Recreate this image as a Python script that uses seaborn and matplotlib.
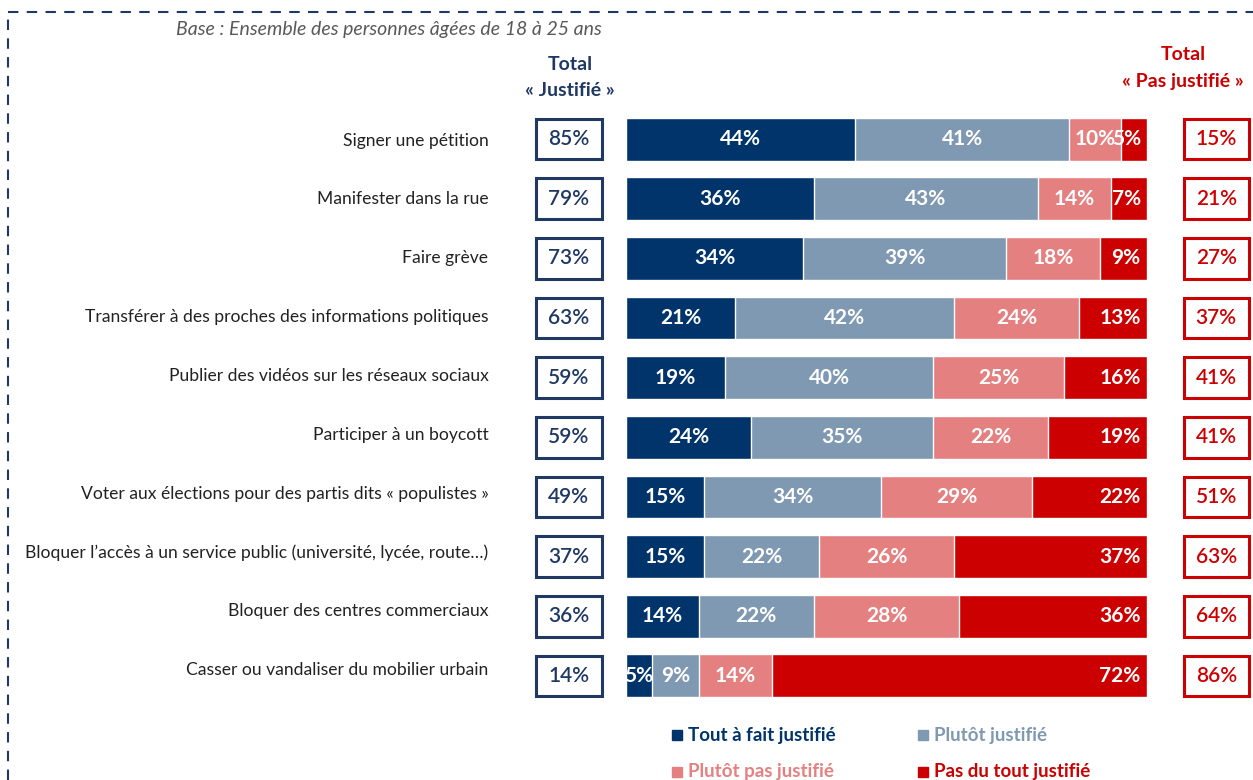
import numpy as np
import pandas as pd
import matplotlib
matplotlib.use("Agg")
import matplotlib.pyplot as plt
import matplotlib.transforms as mtrans
from matplotlib.patches import Rectangle
from matplotlib.lines import Line2D
import seaborn as sns

sns.set_style("white")
plt.rcParams['font.family'] = ['Lato', 'DejaVu Sans']

items = ["Signer une pétition",
         "Manifester dans la rue",
         "Faire grève",
         "Transférer à des proches des informations politiques",
         "Publier des vidéos sur les réseaux sociaux",
         "Participer à un boycott",
         "Voter aux élections pour des partis dits « populistes »",
         "Bloquer l’accès à un service public (université, lycée, route…)",
         "Bloquer des centres commerciaux",
         "Casser ou vandaliser du mobilier urbain"]
tout_a_fait = [44, 36, 34, 21, 19, 24, 15, 15, 14, 5]
plutot = [41, 43, 39, 42, 40, 35, 34, 22, 22, 9]
plutot_pas = [10, 14, 18, 24, 25, 22, 29, 26, 28, 14]
pas_du_tout = [5, 7, 9, 13, 16, 19, 22, 37, 36, 72]
total_justifie = [85, 79, 73, 63, 59, 59, 49, 37, 36, 14]
total_pas = [15, 21, 27, 37, 41, 41, 51, 63, 64, 86]

cats = ["Tout à fait justifié", "Plutôt justifié", "Plutôt pas justifié", "Pas du tout justifié"]
colors = ["#00346A", "#7F99B3", "#E58080", "#CC0000"]
navy = "#1F3864"
red = "#CC0000"

df = pd.DataFrame({"item": items, cats[0]: tout_a_fait, cats[1]: plutot,
                   cats[2]: plutot_pas, cats[3]: pas_du_tout})
vals = df[cats].to_numpy()
cum = vals.cumsum(axis=1)

fig = plt.figure(figsize=(12.53, 7.8), dpi=100)
ax = fig.add_axes([626/1253, 1 - 705.8/780, (1147-626)/1253, (705.8-109.2)/780])

# stacked bars: draw cumulative totals from the last category back to the first
for k in range(3, -1, -1):
    d = pd.DataFrame({"item": items, "x": cum[:, k]})
    sns.barplot(data=d, x="x", y="item", orient="h", color=colors[k], saturation=1,
                width=0.72, edgecolor="white", linewidth=1, ax=ax)

ax.set_xlim(0, 100)
ax.set_ylim(9.5, -0.5)
ax.set_xlabel("")
ax.set_ylabel("")
ax.set_xticks([])
ax.tick_params(axis="y", length=0, pad=99, labelsize=12.6, labelcolor="#222222")
for i, lab in enumerate(ax.get_yticklabels()):
    up = mtrans.ScaledTranslation(0, (0.8 * i) / 100, fig.dpi_scale_trans)
    lab.set_transform(lab.get_transform() + up)
sns.despine(ax=ax, left=True, bottom=True)

for i in range(len(items)):
    for k in range(4):
        v = vals[i, k]
        if k == 3:
            ax.text(98.8, i, f"{v}%", ha="right", va="center", color="white",
                    fontsize=15, fontweight="bold")
        else:
            ax.text(cum[i, k] - v / 2, i, f"{v}%", ha="center", va="center",
                    color="white", fontsize=15, fontweight="bold")
    # total boxes
    ax.add_patch(Rectangle((-17.3, i - 0.34), 12.6, 0.68, fill=False, lw=2.2,
                           edgecolor=navy, clip_on=False))
    ax.text(-11.0, i, f"{total_justifie[i]}%", ha="center", va="center",
            color=navy, fontsize=15, fontweight="semibold")
    ax.add_patch(Rectangle((107.1, i - 0.34), 12.4, 0.68, fill=False, lw=2.2,
                           edgecolor=red, clip_on=False))
    ax.text(113.3, i, f"{total_pas[i]}%", ha="center", va="center",
            color=red, fontsize=15, fontweight="semibold")

# headers
fig.text(176/1253, 1 - 30/780, "Base : Ensemble des personnes âgées de 18 à 25 ans",
         ha="left", va="center", fontsize=14, style="italic", color="#595959")
fig.text(570/1253, 1 - 65/780, "Total", ha="center", va="center",
         fontsize=14, fontweight="bold", color=navy)
fig.text(570/1253, 1 - 91/780, "« Justifié »", ha="center", va="center",
         fontsize=14, fontweight="bold", color=navy)
fig.text(1183/1253, 1 - 55/780, "Total", ha="center", va="center",
         fontsize=14, fontweight="bold", color=red)
fig.text(1183/1253, 1 - 81/780, "« Pas justifié »", ha="center", va="center",
         fontsize=14, fontweight="bold", color=red)

# legend
leg_pos = [(677, 735), (923, 735), (677, 772), (923, 772)]
for (px, py), c, lab in zip(leg_pos, colors, cats):
    fig.add_artist(Line2D([px/1253], [1 - py/780], marker="s", markersize=7,
                          color=c, linestyle="none"))
    fig.text((px + 11)/1253, 1 - py/780, lab, ha="left", va="center",
             fontsize=13.5, fontweight="bold", color=c)

# dashed frame
fig.add_artist(Line2D([8/1253, 1], [1 - 12/780, 1 - 12/780], color=navy,
                      lw=1.5, linestyle=(0, (5, 4))))
fig.add_artist(Line2D([8/1253, 8/1253], [0, 1 - 12/780], color=navy,
                      lw=1.5, linestyle=(0, (5, 4))))

fig.savefig("out.png", dpi=100)
